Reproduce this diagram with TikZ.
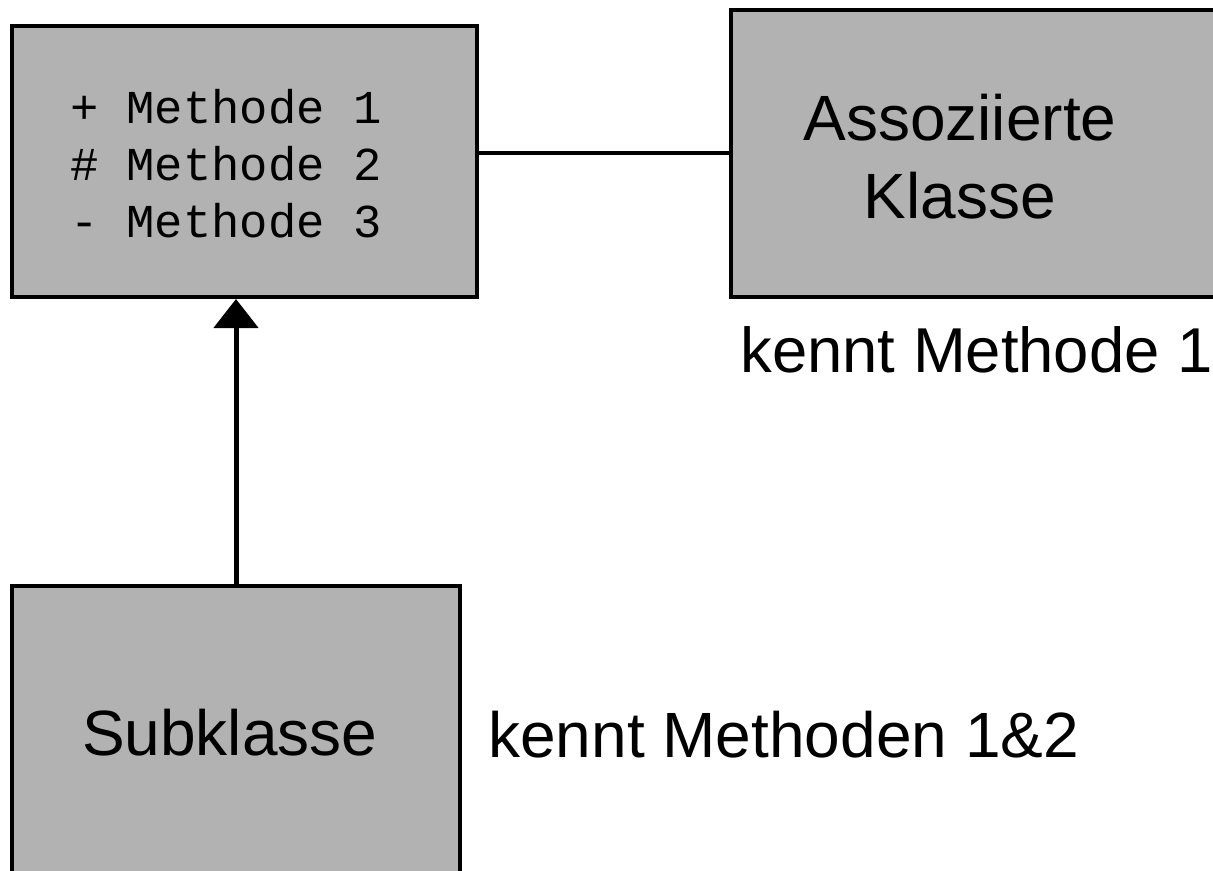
\documentclass[tikz,border=0pt]{standalone}
\usepackage{fontspec}
\setmainfont{Liberation Sans}
\setmonofont{Liberation Mono}
\usetikzlibrary{calc,arrows.meta}
\definecolor{klassGray}{RGB}{178,178,178}

\begin{document}
\begin{tikzpicture}[x=0.5pt,y=-0.5pt,
  klasse/.style={rectangle,draw=black,fill=klassGray,line width=2pt,inner sep=0pt},
  klassText/.style={font=\fontsize{32pt}{39pt}\selectfont,inner sep=0pt,align=center}]
\useasboundingbox (0,0) rectangle (1213,871);
\clip (0,0) rectangle (1213,871);
\node[klasse,minimum width=232.5pt,minimum height=135.5pt,text width=174.5pt,align=left,
  font=\ttfamily\fontsize{23.6pt}{28.5pt}\selectfont] (methoden) at (244.5,161.5) {
\spaceskip=14.16pt\relax\rule{0pt}{19.5pt}+ Methode 1\\
\# Methode 2\\
- Methode 3
};
\node[klasse,minimum width=259.5pt,minimum height=143.5pt] (assoz) at (990.5,153.5) {};
\node[klassText] (assozName) at ($(assoz.west)+(231,3.5)$) {Assoziierte\\Klasse};
\node[klasse,klassText,minimum width=224pt,minimum height=147pt,text width=154pt,align=left] (subklasse) at (236,733) {Subklasse};
\draw[line width=2pt] (assoz.west) -- (assoz.west -| methoden.east);
\draw[line width=2.5pt,-{Triangle[length=14.5pt,width=22pt]}] (subklasse.north) -- (subklasse.north |- methoden.south);
\node[klassText,anchor=base west,font=\fontsize{31.7pt}{39pt}\selectfont] (kenntEins) at (740,372) {kennt Methode 1};
\node[klassText,anchor=base west] (kenntZwei) at (488,757) {kennt Methoden 1\&2};
\end{tikzpicture}
\end{document}
